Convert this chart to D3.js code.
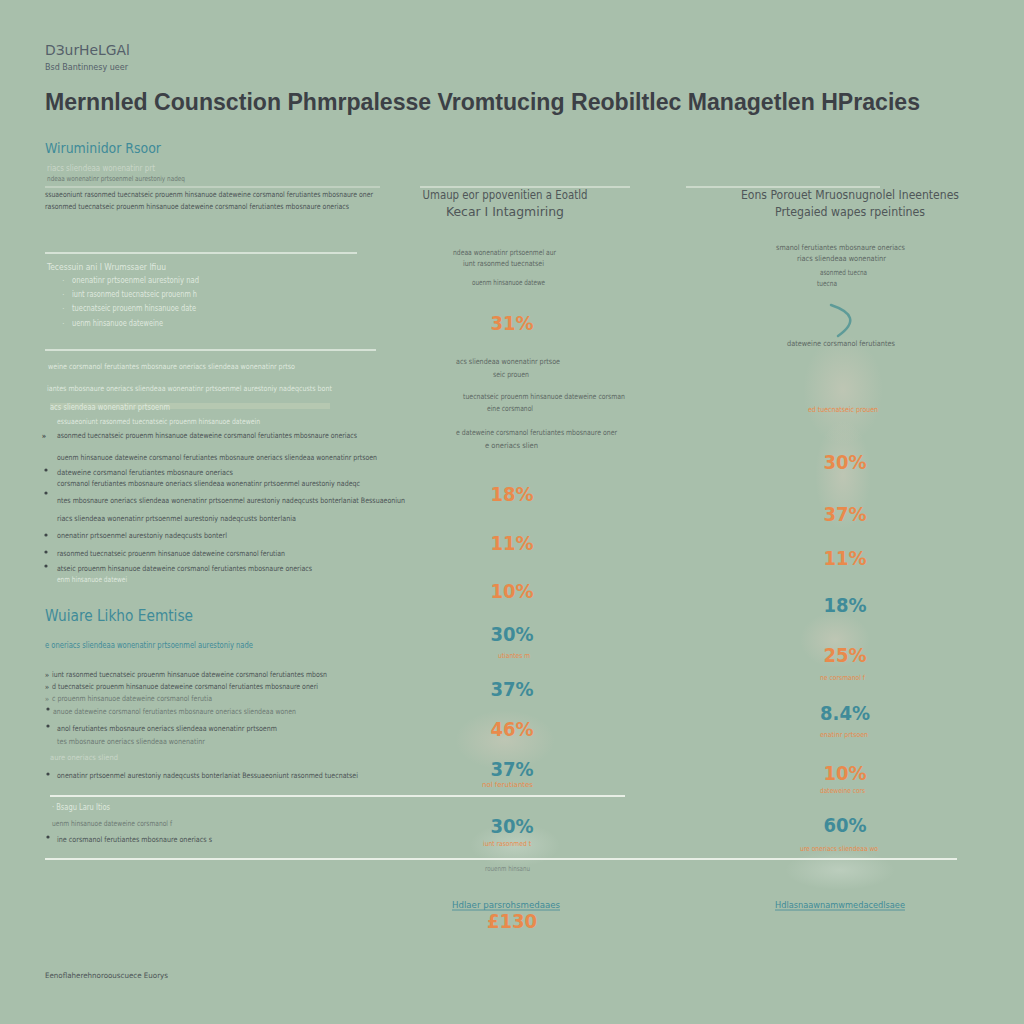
<!DOCTYPE html>
<html><head><meta charset="utf-8">
<script src="https://cdn.jsdelivr.net/npm/d3@7"></script>
<style>html,body{margin:0;padding:0;background:#a8bfab;}</style>
</head><body>
<svg id="c" width="1024" height="1024"></svg>
<script>
// ---------- data ----------
const columns = ["c1", "c2"];
const columnTitles = [
  ["Umaup eor ppovenitien a Eoatld", "Kecar I Intagmiring"],
  ["Eons Porouet Mruosnugnolel Ineentenes", "Prtegaied wapes rpeintines"]
];
const col1Labels = ["31%", "18%", "11%", "10%", "30%", "37%", "46%", "37%", "30%"];
const col1Values = [31, 18, 11, 10, 30, 37, 46, 37, 30];
const col1Tone   = ["o", "o", "o", "o", "t", "t", "o", "t", "t"];
const col2Labels = ["30%", "37%", "11%", "18%", "25%", "8.4%", "10%", "60%"];
const col2Values = [30, 37, 11, 18, 25, 8.4, 10, 60];
const col2Tone   = ["o", "o", "o", "t", "o", "t", "o", "t"];
const col1Total = "£130";

// ---------- layout (positions, not data) ----------
const col1Y = [323, 494, 543, 591, 634, 689, 729, 769, 826];
const col2Y = [462, 514, 558, 605, 655, 713, 773, 825];

const svg = d3.select("#c");
const W = 1024, H = 1024;
const x = d3.scalePoint().domain(columns).range([512, 845]);
const tone = d3.scaleOrdinal().domain(["o", "t"]).range(["#e98a4c", "#3f8b99"]);

svg.append("rect").attr("width", W).attr("height", H).attr("fill", "#a8bfab");

// soft blobs
const defs = svg.append("defs");
const g1 = defs.append("radialGradient").attr("id", "blob");
g1.append("stop").attr("offset", "0%").attr("stop-color", "#f0d6c8").attr("stop-opacity", 0.3);
g1.append("stop").attr("offset", "100%").attr("stop-color", "#f0d6c8").attr("stop-opacity", 0);
const g2 = defs.append("radialGradient").attr("id", "blobw");
g2.append("stop").attr("offset", "0%").attr("stop-color", "#e8eee6").attr("stop-opacity", 0.3);
g2.append("stop").attr("offset", "100%").attr("stop-color", "#e8eee6").attr("stop-opacity", 0);
[[505, 740, 50, 30, "blob"], [843, 390, 40, 55, "blob"], [843, 475, 28, 55, "blob"],
 [835, 640, 35, 28, "blob"], [840, 870, 55, 20, "blobw"], [515, 845, 45, 22, "blobw"]]
  .forEach(b => svg.append("ellipse").attr("cx", b[0]).attr("cy", b[1]).attr("rx", b[2]).attr("ry", b[3]).attr("fill", `url(#${b[4]})`));

const filler = "Bessuaeoniunt rasonmed tuecnatseic prouenm hinsanuoe dateweine corsmanol ferutiantes mbosnaure oneriacs sliendeaa wonenatinr prtsoenmel aurestoniy nadeqcusts bonterlaniat ";
function fill(n, off) {
  let s = "";
  while (s.length < n + off) s += filler;
  return s.slice(off, off + n).trim();
}
const C = { dark: "#4c5456", mid: "#6d7a74", light: "#dfe8de", teal: "#3f8b99", orange: "#e98a4c", title: "#3c4046" };

function line(x0, x1, y, col, w) {
  svg.append("line").attr("x1", x0).attr("x2", x1).attr("y1", y).attr("y2", y)
    .attr("stroke", col || "#e6eee4").attr("stroke-width", w || 1.5);
}
function para(x0, x1, y, col, size, str, weight) {
  const t = svg.append("text").attr("x", x0).attr("y", y).attr("fill", col)
    .attr("font-family", "'Liberation Sans Narrow','DejaVu Sans Condensed',sans-serif")
    .attr("font-size", size).attr("font-weight", weight || "normal")
    .text(str || fill(Math.round((x1 - x0) / (size * 0.45)), Math.round(x0 + y) % 120));
  t.attr("textLength", x1 - x0).attr("lengthAdjust", "spacingAndGlyphs");
  return t;
}
function center(cx, y, col, size, str, weight, width) {
  const t = svg.append("text").attr("x", cx).attr("y", y).attr("fill", col).attr("text-anchor", "middle")
    .attr("font-family", "'Liberation Sans Narrow','DejaVu Sans Condensed',sans-serif")
    .attr("font-size", size).attr("font-weight", weight || "normal").text(str);
  if (width) t.attr("textLength", width).attr("lengthAdjust", "spacingAndGlyphs");
  return t;
}
function bullet(xx, y, col) {
  svg.append("circle").attr("cx", xx).attr("cy", y - 3).attr("r", 1.6).attr("fill", col || "#3f4648");
}

// ---------- header ----------
para(45, 130, 55, "#55606a", 14, "DЗurHeLGAl");
para(45, 128, 70, "#55606a", 8, "Bsd Bantinnesy ueer");
svg.append("text").attr("x", 45).attr("y", 110).attr("fill", C.title)
  .attr("font-family", "'Liberation Sans','Arial',sans-serif").attr("font-weight", "bold").attr("font-size", 24)
  .attr("textLength", 875).attr("lengthAdjust", "spacingAndGlyphs")
  .text("Mernnled Counsction Phmrpalesse Vromtucing Reobiltlec Managetlen HPracies");

// ---------- left column ----------
para(45, 161, 153, C.teal, 14, "Wiruminidor Rsoor");
para(47, 155, 171, "#c9d6c8", 8);
para(47, 185, 181, C.mid, 7);
line(45, 380, 187, "#d7e2d5", 1.2);
para(45, 373, 197, C.dark, 7.5);
para(45, 349, 209, C.dark, 7.5);
line(45, 357, 253, "#e6eee4", 1.5);
para(47, 166, 270, C.light, 8.5, "Tecessuin ani I Wrumssaer Ifiuu");
[[283, 199], [297, 197], [311, 196], [326, 163]].forEach(([y, x1], i) => {
  svg.append("text").attr("x", 62).attr("y", y).attr("fill", C.light).attr("font-size", 8).text("·");
  para(72, x1, y, C.light, 8);
});
line(45, 376, 350, "#e6eee4", 1.5);
para(48, 295, 369, C.light, 7.5);
para(47, 332, 391, C.light, 7.5);
svg.append("rect").attr("x", 50).attr("y", 403).attr("width", 280).attr("height", 6).attr("fill", "#e7e6c9").attr("opacity", 0.22);
para(50, 170, 410, C.light, 8);
para(57, 260, 424, C.light, 7.5);
svg.append("text").attr("x", 42).attr("y", 438).attr("fill", "#3f4648").attr("font-size", 8).attr("font-weight", "bold").text("»");
para(57, 357, 438, C.dark, 7.5);
para(57, 377, 460, C.dark, 7.5);
bullet(46, 473); para(57, 233, 475, C.dark, 7.5);
para(57, 360, 486, C.dark, 7.5);
bullet(46, 496); para(57, 405, 503, C.dark, 7.5);
para(57, 296, 521, C.dark, 7.5);
bullet(46, 538); para(57, 227, 538, C.dark, 7.5);
bullet(46, 555); para(57, 285, 556, C.dark, 7.5);
bullet(46, 569); para(57, 312, 571, C.dark, 7.5);
para(57, 127, 582, C.light, 7.5);

para(45, 193, 621, C.teal, 15, "Wuiare Likho Eemtise");
para(45, 253, 648, C.teal, 8);
svg.append("text").attr("x", 45).attr("y", 677).attr("fill", "#3f4648").attr("font-size", 8).text("»");
para(52, 327, 677, C.dark, 7.5);
svg.append("text").attr("x", 45).attr("y", 689).attr("fill", "#3f4648").attr("font-size", 8).text("»");
para(52, 318, 689, C.dark, 7.5);
svg.append("text").attr("x", 45).attr("y", 701).attr("fill", C.mid).attr("font-size", 8).text("»");
para(52, 212, 701, C.mid, 7.5);
bullet(48, 712); para(53, 296, 714, C.mid, 7.5);
bullet(48, 729); para(57, 277, 731, C.dark, 7.5);
para(57, 205, 744, C.mid, 7.5);
para(50, 118, 760, "#c9d6c8", 7.5);
bullet(48, 777); para(57, 358, 778, C.dark, 7.5);
line(50, 625, 796, "#e8efe6", 2);
para(52, 110, 810, C.light, 8, "· Bsagu Laru Itios");
para(52, 172, 826, C.mid, 7.5);
bullet(48, 840); para(57, 212, 842, C.dark, 7.5);
line(45, 957, 859, "#e8efe6", 2);
para(45, 168, 978, C.dark, 7.5, "Eenoflaherehnoroouscuece Euorys");

// ---------- column headers ----------
line(420, 630, 187, "#d7e2d5", 1.5);
line(686, 880, 187, "#d7e2d5", 1.5);
columnTitles.forEach((tt, i) => {
  const cx = i === 0 ? x(columns[0]) - 7 : x(columns[1]) + 5;
  center(cx, 199, "#4f5658", 13, tt[0], "normal", i === 0 ? 165 : 218);
  center(cx, 216, "#4f5658", 13, tt[1], "normal", i === 0 ? 118 : 150);
});

// ---------- column 1 notes ----------
[[255, 453, 556], [266, 463, 544], [285, 472, 545], [364, 456, 560], [377, 493, 529],
 [399, 463, 625], [411, 487, 533], [435, 456, 617], [448, 485, 538]].forEach(([y, a, b]) => para(a, b, y, "#5d6864", 7.5));
// column 2 notes
[[250, 776, 905], [261, 797, 886], [275, 820, 867], [286, 817, 837], [346, 787, 895]].forEach(([y, a, b]) => para(a, b, y, "#5d6864", 7.5));
svg.append("path").attr("d", "M831,305 C852,312 858,322 838,336").attr("fill", "none")
  .attr("stroke", "#5e9b98").attr("stroke-width", 2.5).attr("stroke-linecap", "round");
para(808, 878, 412, C.orange, 7.5);

// ---------- values ----------
function valueCol(labels, tones, ys, col) {
  svg.append("g").selectAll("text").data(labels.map((l, i) => ({ l, t: tones[i], y: ys[i] }))).join("text")
    .attr("x", x(col)).attr("y", d => d.y + 7).attr("text-anchor", "middle")
    .attr("font-family", "'DejaVu Sans Condensed','DejaVu Sans',sans-serif").attr("font-weight", "bold")
    .attr("font-size", 20).attr("fill", d => tone(d.t)).text(d => d.l);
}
valueCol(col1Labels, col1Tone, col1Y, "c1");
valueCol(col2Labels, col2Tone, col2Y, "c2");
center(x("c1"), 928, C.orange, 20, col1Total, "bold").attr("font-family", "'DejaVu Sans Condensed',sans-serif");

// small captions under values
[[658, 498, 530, C.orange], [787, 482, 533, C.orange], [846, 483, 531, C.orange], [871, 485, 530, "#7c8a84"]]
  .forEach(([y, a, b, c]) => para(a, b, y, c, 7));
[[680, 820, 865], [737, 820, 868], [793, 820, 865], [851, 800, 878]].forEach(([y, a, b]) => para(a, b, y, C.orange, 7));
para(452, 560, 908, C.teal, 9, "Hdlaer parsrohsmedaaes");
line(452, 560, 910, C.teal, 0.8);
para(775, 905, 908, C.teal, 9, "Hdlasnaawnamwmedacedlsaee");
line(775, 905, 910, C.teal, 0.8);
</script>
</body></html>
